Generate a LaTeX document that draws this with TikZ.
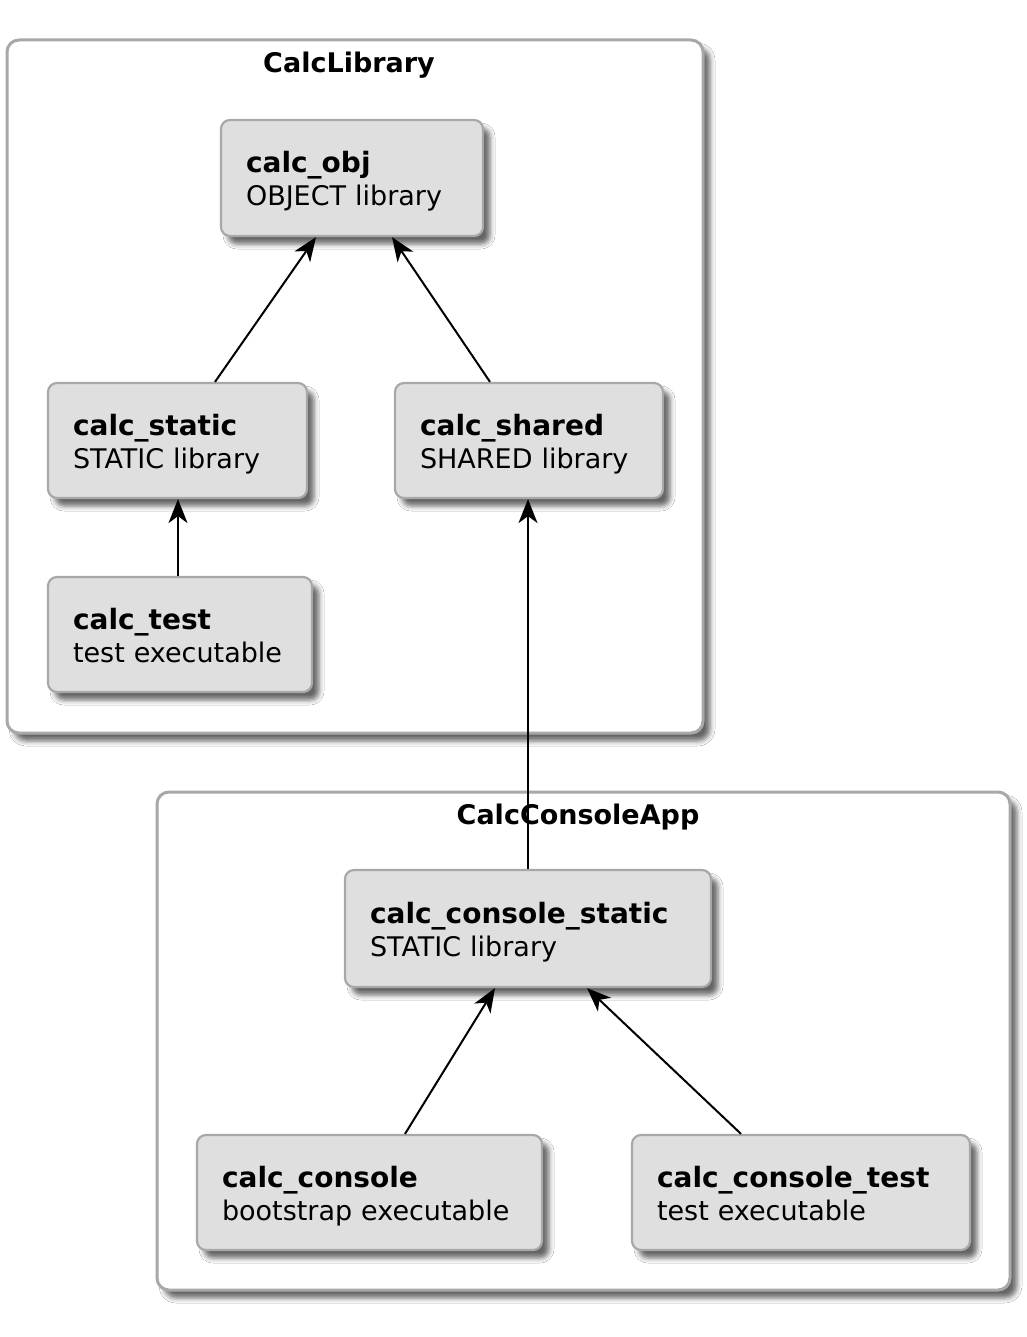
\documentclass[tikz,border=0pt]{standalone}
\usepackage{fontspec}
\setmainfont{DejaVu Sans}
\usetikzlibrary{arrows.meta,shadows.blur}
\definecolor{boxfill}{HTML}{DFDFDF}
\definecolor{boxline}{HTML}{A8A8A8}
\newcommand\tgtlabel[2]{\rule{0pt}{30pt}{\fontsize{28}{33}\selectfont\bfseries #1}\\#2\rule[-8pt]{0pt}{8pt}}
\tikzset{
  tgt/.style={draw=boxline, line width=2.2pt, fill=boxfill, rounded corners=9pt,
    blur shadow={shadow xshift=7pt, shadow yshift=-8pt, shadow blur radius=5pt, shadow opacity=60},
    align=left, inner xsep=25pt, inner ysep=0pt, font=\fontsize{27}{33}\selectfont},
  frame/.style={draw=boxline, line width=3pt, fill=white, rounded corners=12pt,
    blur shadow={shadow xshift=7pt, shadow yshift=-8pt, shadow blur radius=5pt, shadow opacity=60}},
  ftitle/.style={font=\fontsize{27}{33}\selectfont\bfseries, anchor=base},
  dep/.style={line width=2pt, -{Stealth[length=24pt, width=19pt, inset=7pt]}}
}
\begin{document}
\begin{tikzpicture}[x=1pt, y=-1pt]
\useasboundingbox (0,0) rectangle (1026,1337);
\fill[white] (0,0) rectangle (1026,1337);
% frames
\node[frame, minimum width=696pt, minimum height=693pt] (lib) at (355,386.5) {};
\node[ftitle] (libtitle) at (349,73) {CalcLibrary};
\node[frame, minimum width=853pt, minimum height=498pt] (app) at (583.5,1041) {};
\node[ftitle] (apptitle) at (578,824) {CalcConsoleApp};
% targets
\node[tgt, minimum width=262pt, minimum height=116pt, text width=212pt] (obj) at (352,178)
  {\tgtlabel{calc\_obj}{OBJECT library}};
\node[tgt, minimum width=259pt, minimum height=115pt, text width=209pt] (static) at (177.5,440.5)
  {\tgtlabel{calc\_static}{STATIC library}};
\node[tgt, minimum width=268pt, minimum height=115pt, text width=218pt] (shared) at (529,440.5)
  {\tgtlabel{calc\_shared}{SHARED library}};
\node[tgt, minimum width=264pt, minimum height=115pt, text width=214pt] (test) at (180,634.5)
  {\tgtlabel{calc\_test}{test executable}};
\node[tgt, minimum width=366pt, minimum height=117pt, text width=316pt] (cstatic) at (528,928.5)
  {\tgtlabel{calc\_console\_static}{STATIC library}};
\node[tgt, minimum width=345pt, minimum height=115pt, text width=295pt] (console) at (369.5,1192.5)
  {\tgtlabel{calc\_console}{bootstrap executable}};
\node[tgt, minimum width=338pt, minimum height=115pt, text width=288pt] (ctest) at (801,1192.5)
  {\tgtlabel{calc\_console\_test}{test executable}};
% dependencies
\draw[dep] ([xshift=37.5pt]static.north) -- ([xshift=-36pt]obj.south);
\draw[dep] ([xshift=-39pt]shared.north) -- ([xshift=40pt]obj.south);
\draw[dep] ([xshift=-2pt]test.north) -- ([xshift=0.5pt]static.south);
\draw[dep] (cstatic.north) -- ([xshift=-1pt]shared.south);
\draw[dep] ([xshift=35.5pt]console.north) -- ([xshift=-33pt]cstatic.south);
\draw[dep] ([xshift=-60pt]ctest.north) -- ([xshift=59pt]cstatic.south);
\end{tikzpicture}
\end{document}
